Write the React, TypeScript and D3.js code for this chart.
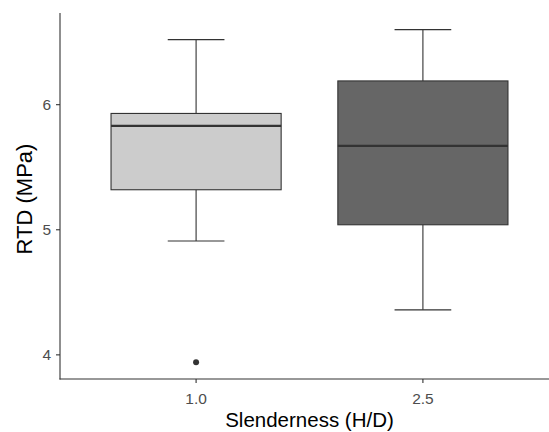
import React from "react";
import * as d3 from "d3";

const categories = ["1.0", "2.5"];
const whiskerLow = [4.91, 4.36];
const q1 = [5.32, 5.04];
const median = [5.83, 5.67];
const q3 = [5.93, 6.19];
const whiskerHigh = [6.52, 6.6];
const fills = ["#CCCCCC", "#666666"];
const outliers = [{ cat: 0, value: 3.94 }];
const yTicks = [4, 5, 6];

export default function App() {
  const W = 549, H = 432;
  const x = d3.scaleLinear().domain([0.4, 2.6]).range([60, 559]);
  const y = d3.scaleLinear().domain([3.807, 6.733]).range([379, 13]);
  const boxHalf = 0.375;
  const capHalf = 0.125;
  const stroke = "#333333";
  const font = "'Liberation Sans', Arial, sans-serif";
  return (
    <svg width={W} height={H} style={{ position: "absolute", left: 0, top: 0 }} fontFamily={font}>
      <rect width={W} height={H} fill="#fff" />
      {categories.map((c, i) => {
        const cx = x(i + 1);
        return (
          <g key={c}>
            <line x1={cx} x2={cx} y1={y(whiskerHigh[i])} y2={y(q3[i])} stroke={stroke} strokeWidth={1.1} />
            <line x1={cx} x2={cx} y1={y(q1[i])} y2={y(whiskerLow[i])} stroke={stroke} strokeWidth={1.1} />
            <line x1={x(i + 1 - capHalf)} x2={x(i + 1 + capHalf)} y1={y(whiskerHigh[i])} y2={y(whiskerHigh[i])} stroke={stroke} strokeWidth={1.1} />
            <line x1={x(i + 1 - capHalf)} x2={x(i + 1 + capHalf)} y1={y(whiskerLow[i])} y2={y(whiskerLow[i])} stroke={stroke} strokeWidth={1.1} />
            <rect x={x(i + 1 - boxHalf)} y={y(q3[i])} width={x(i + 1 + boxHalf) - x(i + 1 - boxHalf)} height={y(q1[i]) - y(q3[i])} fill={fills[i]} stroke={stroke} strokeWidth={1.1} />
            <line x1={x(i + 1 - boxHalf)} x2={x(i + 1 + boxHalf)} y1={y(median[i])} y2={y(median[i])} stroke={stroke} strokeWidth={2.2} />
          </g>
        );
      })}
      {outliers.map((o, k) => (
        <circle key={k} cx={x(o.cat + 1)} cy={y(o.value)} r={3} fill={stroke} />
      ))}
      <line x1={60} x2={60} y1={13} y2={379.5} stroke={stroke} strokeWidth={1.1} />
      <line x1={59.5} x2={W} y1={379} y2={379} stroke={stroke} strokeWidth={1.1} />
      {yTicks.map((t) => (
        <g key={t}>
          <line x1={56} x2={60} y1={y(t)} y2={y(t)} stroke={stroke} strokeWidth={1.1} />
          <text x={51} y={y(t)} dy="0.36em" textAnchor="end" fontSize={15.5} fill="#4D4D4D">{t}</text>
        </g>
      ))}
      {categories.map((c, i) => (
        <g key={c}>
          <line x1={x(i + 1)} x2={x(i + 1)} y1={379} y2={383} stroke={stroke} strokeWidth={1.1} />
          <text x={x(i + 1)} y={404} textAnchor="middle" fontSize={15.5} fill="#4D4D4D">{c}</text>
        </g>
      ))}
      <text x={x(1.5)} y={426.5} textAnchor="middle" fontSize={20.5} fill="#000">Slenderness (H/D)</text>
      <text transform={`translate(32,199) rotate(-90)`} textAnchor="middle" fontSize={22} fill="#000">RTD (MPa)</text>
    </svg>
  );
}
